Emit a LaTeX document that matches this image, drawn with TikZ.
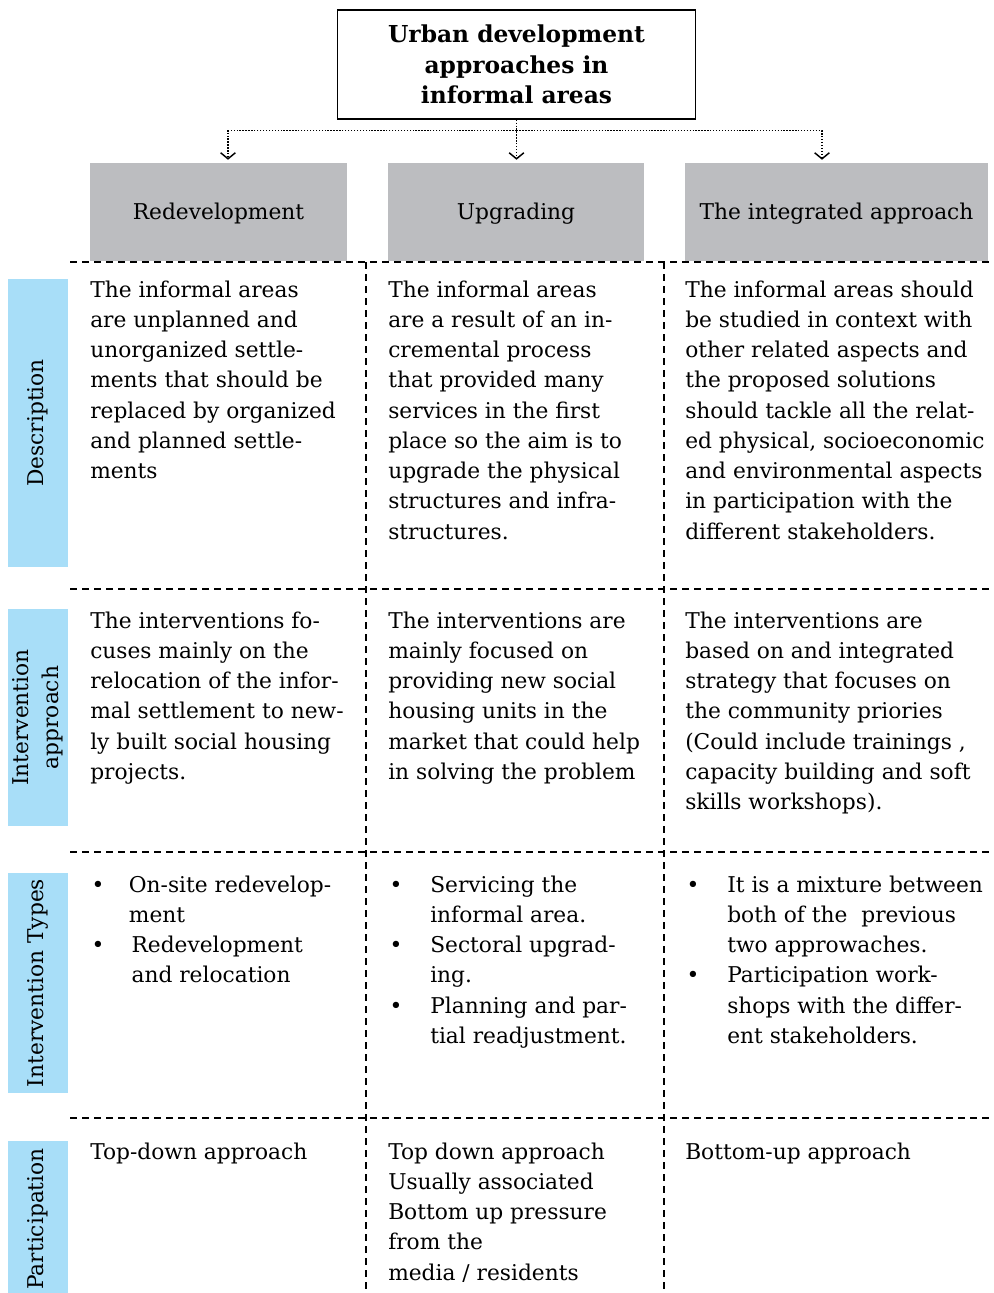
\documentclass[tikz,border=0pt]{standalone}
\usepackage{fontspec}
\setmainfont{DejaVu Serif}
\usetikzlibrary{arrows.meta,calc}
\definecolor{hdrgrey}{HTML}{BCBDC0}
\definecolor{sideblue}{HTML}{A8DEF8}
\begin{document}
\begin{tikzpicture}[x=0.75pt,y=-0.75pt,
  every node/.style={font=\fontsize{16.3}{22.7}\selectfont, inner sep=0pt},
  titlebox/.style={draw, line width=1pt, minimum width=268.5pt, minimum height=81.75pt, align=center, font=\fontsize{17.5}{22.7}\selectfont\bfseries},
  hdr/.style={fill=hdrgrey, minimum height=73.5pt, text height=11.9pt, text depth=0pt},
  side/.style={fill=sideblue, rotate=90, minimum height=45pt, align=center},
  cell/.style={anchor=base west},
  grid/.style={line width=1.3pt, dash pattern=on 5.5pt off 3.5pt},
  conn/.style={line width=1.1pt, dash pattern=on 1pt off 1.2pt, -{Straight Barb[length=4.5pt,width=11pt,line width=1.1pt]}, shorten >=2.25pt}
]
\useasboundingbox (0,0) rectangle (993,1293);

% title
\node[titlebox] (title) at (516.5,64.5) {Urban development\\approaches in\\informal areas};

% headers
\node[hdr, minimum width=192.75pt] (h1) at (218.5,212) {Redevelopment};
\node[hdr, minimum width=192pt] (h2) at (516,212) {Upgrading};
\node[hdr, minimum width=227.25pt] (h3) at (836.5,212) {The integrated approach};

% connectors
\coordinate (jn) at ($(title.south)+(0,11)$);
\coordinate (t1) at ($(h1.north)+(9.5,0)$);
\coordinate (t3) at ($(h3.north)+(-14.5,0)$);
\draw[conn] (title.south) -- (title.south |- h2.north);
\draw[conn] (jn) -| (t1);
\draw[conn] (jn) -| (t3);

% grid lines
\coordinate (g1) at (70,262);
\coordinate (g2) at (70,589);
\coordinate (g3) at (70,852);
\coordinate (g4) at (70,1118);
\foreach \g in {g1,g2,g3,g4} \draw[grid] (\g) -- (\g -| 993,0);
\coordinate (v1) at (366,262);
\coordinate (v2) at (664,262);
\draw[grid] (v1) -- (366,1293);
\draw[grid] (v2) -- (664,1293);

% side labels
\node[side, minimum width=216pt] (s1) at (38,423) {Description};
\node[side, minimum width=162.75pt] (s2) at (38,717.5) {Intervention\\approach};
\node[side, minimum width=165pt] (s3) at (38,983) {Intervention Types};
\node[side, minimum width=117pt] (s4) at (38,1219) {Participation};

% row 1
\node[cell] (c11) at (90,297) {\begin{tabular}[t]{@{}l@{}}The informal areas\\are unplanned and\\unorganized settle-\\ments that should be\\replaced by organized\\and planned settle-\\ments\end{tabular}};
\node[cell] (c12) at (388,297) {\begin{tabular}[t]{@{}l@{}}The informal areas\\are a result of an in-\\cremental process\\that provided many\\services in the first\\place so the aim is to\\upgrade the physical\\structures and infra-\\structures.\end{tabular}};
\node[cell] (c13) at (685,297) {\begin{tabular}[t]{@{}l@{}}The informal areas should\\be studied in context with\\other related aspects and\\the proposed solutions\\should tackle all the relat-\\ed physical, socioeconomic\\and environmental aspects\\in participation with the\\different stakeholders.\end{tabular}};

% row 2
\node[cell] (c21) at (90,628) {\begin{tabular}[t]{@{}l@{}}The interventions fo-\\cuses mainly on the\\relocation of the infor-\\mal settlement to new-\\ly built social housing\\projects.\end{tabular}};
\node[cell] (c22) at (388,628) {\begin{tabular}[t]{@{}l@{}}The interventions are\\mainly focused on\\providing new social\\housing units in the\\market that could help\\in solving the problem\end{tabular}};
\node[cell] (c23) at (685,628) {\begin{tabular}[t]{@{}l@{}}The interventions are\\based on and integrated\\strategy that focuses on\\the community priories\\(Could include trainings ,\\capacity building and soft\\skills workshops).\end{tabular}};

% row 3
\node[cell] (c31) at (90,892) {\begin{tabular}[t]{@{}p{29pt}@{}l@{}}\hspace{1pt}\textbullet & On-site redevelop-\\ & ment\\ \hspace{1pt}\textbullet & \hspace{2pt}Redevelopment\\ & \hspace{2pt}and relocation\end{tabular}};
\node[cell] (c32) at (388,892) {\begin{tabular}[t]{@{}p{31.5pt}@{}l@{}}\hspace{1pt}\textbullet & Servicing the\\ & informal area.\\ \hspace{1pt}\textbullet & Sectoral upgrad-\\ & ing.\\ \hspace{1pt}\textbullet & Planning and par-\\ & tial readjustment.\end{tabular}};
\node[cell] (c33) at (685,892) {\begin{tabular}[t]{@{}p{31.5pt}@{}l@{}}\hspace{1pt}\textbullet & It is a mixture between\\ & both of the\ \ previous\\ & two approwaches.\\ \hspace{1pt}\textbullet & Participation work-\\ & shops with the differ-\\ & ent stakeholders.\end{tabular}};

% row 4
\node[cell] (c41) at (90,1159) {Top-down approach};
\node[cell] (c42) at (388,1159) {\begin{tabular}[t]{@{}l@{}}Top down approach\\Usually associated\\Bottom up pressure\\from the\\media / residents\end{tabular}};
\node[cell] (c43) at (685,1159) {Bottom-up approach};
\end{tikzpicture}
\end{document}
